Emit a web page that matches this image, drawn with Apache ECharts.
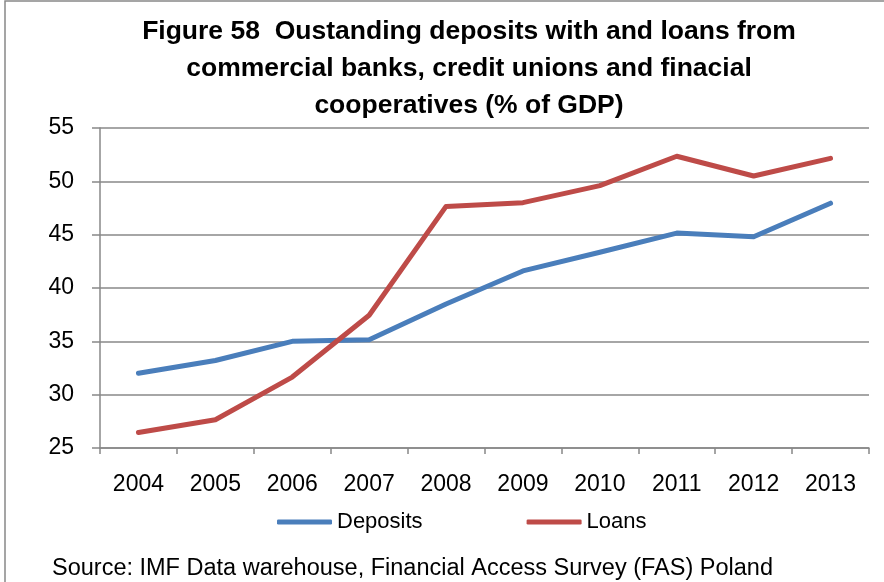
<!DOCTYPE html>
<html>
<head>
<meta charset="utf-8">
<script src="https://cdn.jsdelivr.net/npm/echarts@6/dist/echarts.min.js"></script>
<style>
html,body{margin:0;padding:0;background:#fff;}
#chart{width:884px;height:582px;}
</style>
</head>
<body>
<div id="chart"></div>
<script>
var categories = ['2004','2005','2006','2007','2008','2009','2010','2011','2012','2013'];
var deposits = [32.0, 33.2, 35.0, 35.15, 38.5, 41.6, 43.35, 45.15, 44.8, 47.95];
var loans = [26.45, 27.65, 31.65, 37.45, 47.65, 48.0, 49.6, 52.35, 50.5, 52.15];
var seriesNames = ['Deposits', 'Loans'];
var titleText = 'Figure 58  Oustanding deposits with and loans from\ncommercial banks, credit unions and finacial\ncooperatives (% of GDP)';
var sourceText = 'Source: IMF Data warehouse, Financial Access Survey (FAS) Poland';

var FONT = '"Liberation Sans", Arial, sans-serif';
var chart = echarts.init(document.getElementById('chart'), null, {renderer: 'canvas'});
chart.setOption({
  backgroundColor: '#ffffff',
  animation: false,
  title: {
    text: titleText,
    left: 464,
    textAlign: 'center',
    top: 8,
    textStyle: {
      fontFamily: FONT,
      fontWeight: 'bold',
      fontSize: 26.5,
      lineHeight: 37,
      color: '#000000'
    }
  },
  legend: {
    data: seriesNames,
    left: 277,
    top: 511,
    padding: 0,
    itemWidth: 55,
    itemHeight: 5,
    itemGap: 104,
    icon: 'roundRect',
    textStyle: {fontFamily: FONT, fontSize: 22, color: '#000000'}
  },
  grid: {left: 100, right: 15, top: 128, bottom: 134},
  xAxis: {
    type: 'category',
    data: categories,
    boundaryGap: true,
    axisLine: {lineStyle: {color: '#888888', width: 1.5}},
    axisTick: {show: true, alignWithLabel: false, length: 6, inside: false, lineStyle: {color: '#888888', width: 1.5}},
    axisLabel: {margin: 25, fontFamily: FONT, fontSize: 23, color: '#000000'}
  },
  yAxis: {
    type: 'value',
    min: 25,
    max: 55,
    interval: 5,
    axisLine: {show: true, lineStyle: {color: '#888888', width: 1.5}},
    axisTick: {show: true, length: 8, lineStyle: {color: '#888888', width: 1.5}},
    splitLine: {show: true, lineStyle: {color: '#888888', width: 1.5}},
    axisLabel: {margin: 26, fontFamily: FONT, fontSize: 23, color: '#000000'}
  },
  series: [
    {
      name: seriesNames[0],
      type: 'line',
      data: deposits,
      symbol: 'none',
      color: '#4a7ebb',
      lineStyle: {width: 5, color: '#4a7ebb', cap: 'round', join: 'round'}
    },
    {
      name: seriesNames[1],
      type: 'line',
      data: loans,
      symbol: 'none',
      color: '#be4b48',
      lineStyle: {width: 5, color: '#be4b48', cap: 'round', join: 'round'}
    }
  ],
  graphic: [
    {
      type: 'rect',
      shape: {x: 5, y: 1, width: 900, height: 600},
      style: {fill: 'none', stroke: '#888888', lineWidth: 1.5},
      silent: true,
      z: -1
    },
    {
      type: 'text',
      left: 52,
      top: 557,
      style: {text: sourceText, fontFamily: FONT, fontSize: 23.5, fill: '#000000'}
    }
  ]
});
</script>
</body>
</html>
